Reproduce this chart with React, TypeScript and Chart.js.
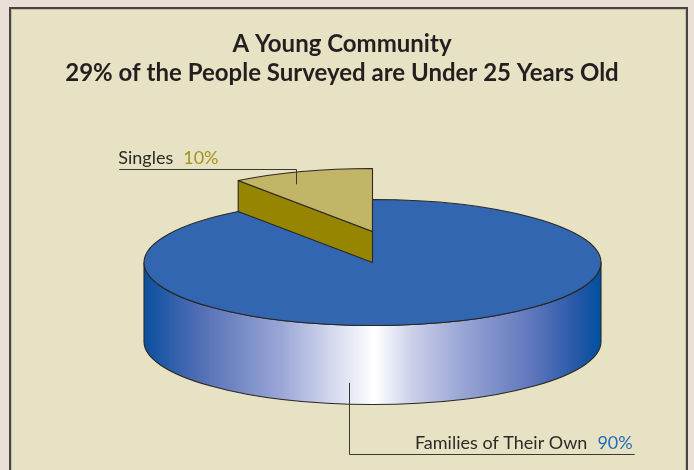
import React, { useEffect, useRef } from 'react';
import { Chart, registerables } from 'chart.js';

Chart.register(...registerables);

// ---------- data ----------
const TITLE_LINES = ['A Young Community', '29% of the People Surveyed are Under 25 Years Old'];
const CATEGORIES = ['Singles', 'Families of Their Own'];
const VALUES = [10, 90];

// ---------- styles ----------
const TOP_COLORS = ['#C3B567', '#3366B0'];
const FACE_COLORS = ['#968500', '#0B4E9F'];
const VALUE_COLORS = ['#A0941C', '#1F6CBB'];
const EXPLODED = [true, false];
const WALL_STOPS: [number, string][][] = [
  [[0, '#968500'], [1, '#968500']],
  [
    [0, '#0A50A0'], [0.116, '#4F6DB4'], [0.3, '#9AA6D6'], [0.41, '#D3D8EE'], [0.505, '#FFFFFF'],
    [0.59, '#C9CEE8'], [0.7, '#98A4D4'], [0.845, '#6178BD'], [0.954, '#2256A6'], [1, '#0050A0'],
  ],
];
const W = 694;
const H = 470;
const TILT = 63 / 228.5;
const DEPTH = 79 / 228.5;
const LIFT = 31 / 228.5;
const OUTLINE = '#2A2725';
const TEXT_COLOR = '#2B2A28';
const LABEL_FONT = '18px Lato, "Open Sans", sans-serif';
const TITLE_FONT = 'bold 24px Lato, "Open Sans", sans-serif';
// anchor: frac along slice angle, radius (top face) or wall depth fraction; elbow offsets
const LABEL_LAYOUT = [
  { frac: 0.333, radius: 0.82, wall: -1, rise: -15, run: -177, align: 'left' },
  { frac: 0.574, radius: 1, wall: 0.73, rise: 71, run: 286, align: 'right' },
];

function geometry(chart: any) {
  const ca = chart.chartArea;
  const rx = (ca.right - ca.left) / 2;
  const ry = rx * TILT;
  const depth = rx * DEPTH;
  const lift = rx * LIFT;
  const cx = (ca.left + ca.right) / 2;
  const total = lift + 2 * ry + depth;
  const cy = ca.top + (ca.bottom - ca.top - total) / 2 + lift + ry;
  return { rx, ry, depth, lift, cx, cy };
}

function visibleRanges(s: number, e: number) {
  const out: [number, number][] = [];
  for (let k = -2; k <= 2; k++) {
    const lo = Math.max(s, k * 2 * Math.PI);
    const hi = Math.min(e, k * 2 * Math.PI + Math.PI);
    if (hi > lo) out.push([lo, hi]);
  }
  return out;
}

const pie3d = {
  id: 'pie3d',
  beforeDatasetsDraw(chart: any) {
    const ctx: CanvasRenderingContext2D = chart.ctx;
    const meta = chart.getDatasetMeta(0);
    const g = geometry(chart);
    const arcs = meta.data as any[];
    const mid = (i: number) => (arcs[i].startAngle + arcs[i].endAngle) / 2;
    const order = arcs.map((_, i) => i).sort((a, b) => Math.sin(mid(a)) - Math.sin(mid(b)));
    ctx.save();
    ctx.lineJoin = 'round';
    ctx.lineWidth = 1.1;
    ctx.strokeStyle = OUTLINE;
    for (const i of order) {
      const arc = arcs[i];
      const s = arc.startAngle;
      const e = arc.endAngle;
      const oy = g.cy - (EXPLODED[i] ? g.lift : 0);
      const px = (t: number) => g.cx + g.rx * Math.cos(t);
      const py = (t: number, d = 0) => oy + g.ry * Math.sin(t) + d;
      // radial cut faces
      const faces = [
        { t: s, n: s - Math.PI / 2 },
        { t: e, n: e + Math.PI / 2 },
      ];
      for (const f of faces) {
        if (Math.sin(f.n) <= 1e-6) continue;
        ctx.beginPath();
        ctx.moveTo(g.cx, oy);
        ctx.lineTo(px(f.t), py(f.t));
        ctx.lineTo(px(f.t), py(f.t, g.depth));
        ctx.lineTo(g.cx, oy + g.depth);
        ctx.closePath();
        ctx.fillStyle = FACE_COLORS[i];
        ctx.fill();
        ctx.stroke();
      }
      // outer curved wall (front half only)
      for (const [a0, a1] of visibleRanges(s, e)) {
        const grad = ctx.createLinearGradient(g.cx - g.rx, 0, g.cx + g.rx, 0);
        for (const [p, c] of WALL_STOPS[i]) grad.addColorStop(p, c);
        ctx.beginPath();
        ctx.ellipse(g.cx, oy, g.rx, g.ry, 0, a0, a1, false);
        ctx.ellipse(g.cx, oy + g.depth, g.rx, g.ry, 0, a1, a0, true);
        ctx.closePath();
        ctx.fillStyle = grad;
        ctx.fill();
        ctx.stroke();
      }
      // top face via the library's arc element, squashed into an ellipse
      const R = arc.outerRadius;
      ctx.save();
      ctx.translate(g.cx, oy);
      ctx.scale(g.rx / R, g.ry / R);
      ctx.translate(-arc.x, -arc.y);
      arc.draw(ctx);
      ctx.beginPath();
      ctx.moveTo(arc.x, arc.y);
      ctx.arc(arc.x, arc.y, R, s, e);
      ctx.closePath();
      ctx.restore();
      ctx.stroke();
    }
    ctx.restore();
    return false;
  },
};

const labelsAndTitle = {
  id: 'labelsAndTitle',
  afterDraw(chart: any) {
    const ctx: CanvasRenderingContext2D = chart.ctx;
    const meta = chart.getDatasetMeta(0);
    const g = geometry(chart);
    const sum = VALUES.reduce((a, b) => a + b, 0);
    ctx.save();
    ctx.font = LABEL_FONT;
    ctx.textBaseline = 'alphabetic';
    (meta.data as any[]).forEach((arc, i) => {
      const L = LABEL_LAYOUT[i];
      const oy = g.cy - (EXPLODED[i] ? g.lift : 0);
      const t = arc.startAngle + (arc.endAngle - arc.startAngle) * L.frac;
      let ax: number, ay: number;
      if (L.wall >= 0) {
        ax = g.cx + g.rx * Math.cos(t);
        ay = oy + g.ry * Math.sin(t) + g.depth * L.wall;
      } else {
        ax = g.cx + g.rx * L.radius * Math.cos(t);
        ay = oy + g.ry * L.radius * Math.sin(t);
      }
      const ey = ay + L.rise;
      const ex = ax + L.run;
      ctx.beginPath();
      ctx.moveTo(Math.round(ax) + 0.5, ay);
      ctx.lineTo(Math.round(ax) + 0.5, Math.round(ey) + 0.5);
      ctx.lineTo(ex, Math.round(ey) + 0.5);
      ctx.strokeStyle = '#3A3835';
      ctx.lineWidth = 1;
      ctx.stroke();
      const name = CATEGORIES[i];
      const val = `${Math.round((VALUES[i] / sum) * 100)}%`;
      const gap = 10;
      const nw = ctx.measureText(name).width;
      const vw = ctx.measureText(val).width;
      const by = ey - 5;
      let x0: number;
      if (L.align === 'left') x0 = Math.min(ex, ax) - 1;
      else x0 = Math.max(ex, ax) - 2 - (nw + gap + vw);
      ctx.textAlign = 'left';
      ctx.fillStyle = TEXT_COLOR;
      ctx.fillText(name, x0, by);
      ctx.fillStyle = VALUE_COLORS[i];
      ctx.fillText(val, x0 + nw + gap, by);
    });

    ctx.font = TITLE_FONT;
    ctx.fillStyle = '#231F20';
    ctx.textAlign = 'center';
    const x = chart.width / 2 - 5;
    TITLE_LINES.forEach((line, i) => ctx.fillText(line, x, 52 + i * 29));
    ctx.restore();
  },
};

export default function App() {
  const ref = useRef<HTMLCanvasElement>(null);
  useEffect(() => {
    document.body.style.margin = '0';
    const sum = VALUES.reduce((a, b) => a + b, 0);
    const chart = new Chart(ref.current as HTMLCanvasElement, {
      type: 'pie',
      data: {
        labels: CATEGORIES,
        datasets: [{ data: VALUES, backgroundColor: TOP_COLORS, borderWidth: 0, hoverOffset: 0 }],
      },
      options: {
        responsive: false,
        animation: false,
        devicePixelRatio: 1,
        rotation: -(VALUES[0] / sum) * 360,
        layout: { padding: { left: 144, right: 93, top: 168, bottom: 65 } },
        plugins: {
          legend: { display: false },
          title: { display: false },
          tooltip: { enabled: false },
        },
        events: [],
      } as any,
      plugins: [pie3d, labelsAndTitle],
    });
    return () => chart.destroy();
  }, []);
  return (
    <div style={{ position: 'relative', width: W, height: H, background: '#EADFD4', overflow: 'hidden' }}>
      <div
        style={{
          position: 'absolute',
          left: 9,
          top: 7,
          width: 679,
          height: 490,
          border: '2px solid #454545',
          boxSizing: 'border-box',
          background: '#E8E2C4',
          boxShadow: 'inset 0 0 0 1px rgba(0,0,0,0.15)',
        }}
      />
      <canvas ref={ref} width={W} height={H} style={{ position: 'absolute', left: 0, top: 0 }} />
    </div>
  );
}
